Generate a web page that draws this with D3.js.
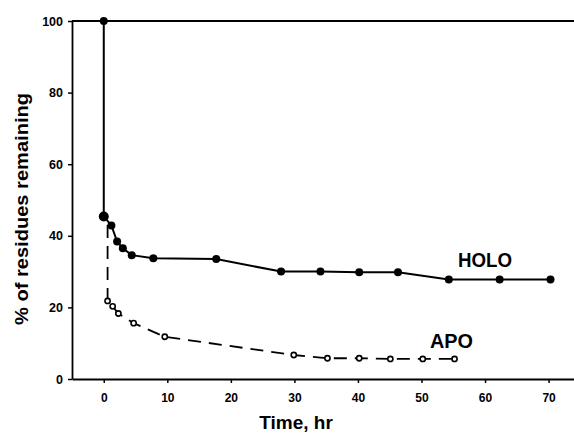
<!DOCTYPE html>
<html>
<head>
<meta charset="utf-8">
<script src="https://cdn.jsdelivr.net/npm/d3@7"></script>
<style>
  body { margin: 0; background: #fff; }
  svg { display: block; font-family: "Liberation Sans", Arial, sans-serif; font-weight: bold; }
</style>
</head>
<body>
<div class="chart"></div>
<script>

// data (time in hr, % of residues remaining)
var holoTime = [0, 0, 1.2, 2.1, 3.0, 4.4, 7.8, 17.7, 27.9, 34.1, 40.2, 46.3, 54.3, 62.3, 70.3];
var holoPct  = [100, 45.4, 42.9, 38.4, 36.5, 34.6, 33.7, 33.5, 30.0, 30.0, 29.8, 29.8, 27.8, 27.8, 27.8];

// first apo value is where the dashed line comes out from under the holo curve
var apoTime = [0.6, 0.6, 1.4, 2.3, 4.7, 9.6, 29.9, 35.2, 40.2, 45.1, 50.2, 55.2];
var apoPct  = [43, 21.8, 20.3, 18.3, 15.6, 11.8, 6.7, 5.8, 5.8, 5.6, 5.6, 5.6];

var xTicks = [0, 10, 20, 30, 40, 50, 60, 70];
var yTicks = [0, 20, 40, 60, 80, 100];

var width = 574, height = 438;
var margin = {top: 21, right: 0, bottom: 59, left: 72};

var svg = d3.select(".chart")
  .append("svg")
    .attr("width", width)
    .attr("height", height);

var x = d3.scaleLinear()
  .domain([-5, 74])
  .range([margin.left, width - margin.right]);

var y = d3.scaleLinear()
  .domain([0, 100])
  .range([height - margin.bottom, margin.top]);

// x axis
var xAxis = svg.append("g")
  .attr("transform", "translate(0," + y(0) + ")")
  .call(d3.axisBottom(x).tickValues(xTicks).tickSize(4).tickPadding(10).tickSizeOuter(0));
xAxis.select(".domain").attr("stroke-width", 2.2);
xAxis.selectAll(".tick line").attr("stroke-width", 1.5);
xAxis.selectAll("text").style("font-size", "12px").style("font-weight", "bold");

// y axis
var yAxis = svg.append("g")
  .attr("transform", "translate(" + x(-5) + ",0)")
  .call(d3.axisLeft(y).tickValues(yTicks).tickSize(4).tickPadding(5).tickSizeOuter(0));
yAxis.select(".domain").attr("stroke-width", 1.8);
yAxis.selectAll(".tick line").attr("stroke-width", 1.5);
yAxis.selectAll("text").style("font-size", "12.5px").style("font-weight", "bold");

// top line at 100%
svg.append("line")
  .attr("x1", x(-5)).attr("x2", width)
  .attr("y1", y(100)).attr("y2", y(100))
  .attr("stroke", "#000").attr("stroke-width", 2);

var holo = holoTime.map(function(t, i) { return {t: t, v: holoPct[i]}; });
var apo = apoTime.map(function(t, i) { return {t: t, v: apoPct[i]}; });

var line = d3.line()
  .x(function(d) { return x(d.t); })
  .y(function(d) { return y(d.v); });

svg.append("path")
  .datum(apo)
  .attr("fill", "none")
  .attr("stroke", "#000")
  .attr("stroke-width", 1.8)
  .attr("stroke-dasharray", "13,8")
  .attr("d", line);

svg.append("path")
  .datum(holo)
  .attr("fill", "none")
  .attr("stroke", "#000")
  .attr("stroke-width", 2)
  .attr("d", line);

svg.selectAll(".holo-pt")
  .data(holo)
  .enter()
  .append("circle")
  .attr("class", "holo-pt")
  .attr("cx", function(d) { return x(d.t); })
  .attr("cy", function(d) { return y(d.v); })
  .attr("r", function(d, i) { return i == 1 ? 5 : 4; })
  .attr("fill", "#000");

svg.selectAll(".apo-pt")
  .data(apo.slice(1))
  .enter()
  .append("circle")
  .attr("class", "apo-pt")
  .attr("cx", function(d) { return x(d.t); })
  .attr("cy", function(d) { return y(d.v); })
  .attr("r", 2.6)
  .attr("fill", "#fff")
  .attr("stroke", "#000")
  .attr("stroke-width", 1.6);

// labels
svg.append("text")
  .attr("x", 458).attr("y", 267)
  .attr("textLength", 54).attr("lengthAdjust", "spacingAndGlyphs")
  .style("font-size", "20px")
  .text("HOLO");

svg.append("text")
  .attr("x", 430).attr("y", 348)
  .attr("textLength", 43).attr("lengthAdjust", "spacingAndGlyphs")
  .style("font-size", "20px")
  .text("APO");

svg.append("text")
  .attr("x", 296).attr("y", 429)
  .attr("text-anchor", "middle")
  .style("font-size", "19px")
  .text("Time, hr");

svg.append("text")
  .attr("transform", "translate(28,209) rotate(-90)")
  .attr("text-anchor", "middle")
  .attr("textLength", 232).attr("lengthAdjust", "spacingAndGlyphs")
  .style("font-size", "18px")
  .text("% of residues remaining");

</script>
</body>
</html>
